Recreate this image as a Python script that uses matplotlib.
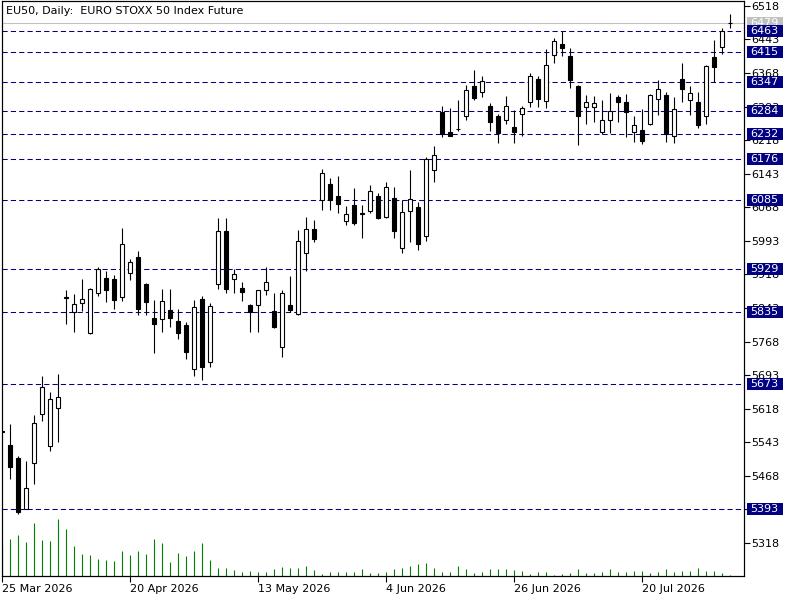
import matplotlib
matplotlib.use('Agg')
import matplotlib.pyplot as plt
from matplotlib.patches import Rectangle
from matplotlib.transforms import IdentityTransform
import numpy as np
import pandas as pd

plt.rcParams['font.family'] = ['DejaVu Sans']

# daily OHLC, EU50 future, 25 Mar 2026 .. 4 Aug 2026
opens = [5567, 5537, 5507, 5394, 5497, 5605, 5535, 5619, 5867, 5833,
         5853, 5786, 5876, 5910, 5908, 5867, 5921, 5957, 5897, 5821,
         5819, 5839, 5814, 5805, 5706, 5863, 5723, 5896, 6014, 5907,
         5888, 5850, 5849, 5884, 5836, 5755, 5850, 5829, 5965, 6019,
         6084, 6120, 6093, 6037, 6073, 6055, 6059, 6093, 6046, 6088,
         5976, 6060, 6069, 6003, 6151, 6281, 6236, 6244, 6272, 6339,
         6325, 6294, 6272, 6262, 6248, 6276, 6303, 6355, 6306, 6408,
         6433, 6406, 6339, 6292, 6292, 6236, 6262, 6315, 6303, 6236,
         6240, 6255, 6309, 6318, 6227, 6355, 6307, 6303, 6272, 6404,
         6426, 6479]
highs = [5569, 5584, 5512, 5500, 5604, 5690, 5655, 5695, 5883, 5874,
         5908, 5888, 5935, 5926, 5917, 6022, 5952, 5970, 5899, 5861,
         5886, 5886, 5841, 5812, 5861, 5870, 5854, 6044, 6044, 5930,
         5901, 5852, 5884, 5935, 5877, 5883, 5915, 6017, 6046, 6040,
         6154, 6134, 6138, 6071, 6111, 6073, 6118, 6099, 6125, 6114,
         6084, 6151, 6080, 6180, 6204, 6294, 6290, 6308, 6341, 6375,
         6362, 6301, 6276, 6317, 6286, 6294, 6368, 6362, 6422, 6446,
         6462, 6424, 6341, 6319, 6317, 6308, 6324, 6319, 6321, 6271,
         6288, 6321, 6353, 6326, 6315, 6390, 6339, 6325, 6386, 6442,
         6468, 6500]
lows = [5564, 5460, 5383, 5393, 5450, 5590, 5524, 5544, 5807, 5790,
        5836, 5785, 5870, 5857, 5841, 5859, 5906, 5828, 5828, 5742,
        5790, 5801, 5773, 5728, 5692, 5683, 5712, 5886, 5877, 5877,
        5859, 5790, 5790, 5873, 5798, 5734, 5835, 5827, 5925, 5991,
        6063, 6063, 6055, 6028, 6028, 6000, 6055, 6041, 6044, 5999,
        5965, 5990, 5973, 5992, 6125, 6224, 6227, 6239, 6264, 6308,
        6314, 6239, 6212, 6255, 6211, 6227, 6293, 6291, 6290, 6391,
        6405, 6334, 6207, 6254, 6258, 6231, 6233, 6259, 6226, 6215,
        6209, 6251, 6274, 6215, 6211, 6303, 6274, 6245, 6254, 6349,
        6410, 6468]
closes = [5566, 5488, 5386, 5441, 5585, 5666, 5639, 5643, 5865, 5851,
          5863, 5885, 5930, 5884, 5860, 5986, 5945, 5840, 5857, 5808,
          5859, 5821, 5786, 5745, 5845, 5712, 5847, 6014, 5886, 5918,
          5879, 5835, 5883, 5901, 5801, 5877, 5839, 5992, 6019, 5998,
          6145, 6084, 6075, 6052, 6032, 6052, 6104, 6043, 6113, 6014,
          6058, 6086, 5985, 6175, 6185, 6231, 6228, 6243, 6330, 6312,
          6350, 6259, 6235, 6294, 6237, 6290, 6361, 6309, 6385, 6440,
          6425, 6353, 6273, 6303, 6300, 6262, 6283, 6303, 6280, 6251,
          6216, 6318, 6332, 6231, 6287, 6332, 6323, 6251, 6384, 6382,
          6461, 6479]
volumes = [30, 37, 41, 34, 53, 36, 35, 57, 47, 30,
           22, 21, 17, 16, 15, 25, 21, 25, 22, 37,
           33, 14, 23, 20, 25, 33, 16, 8, 8, 6,
           4, 5, 4, 4, 7, 9, 8, 8, 10, 6,
           2, 4, 4, 4, 4, 7, 3, 3, 4, 7,
           8, 10, 12, 13, 8, 4, 4, 10, 7, 3,
           4, 7, 7, 7, 6, 5, 2, 4, 4, 1,
           2, 3, 7, 3, 3, 4, 7, 4, 4, 5,
           5, 3, 4, 7, 4, 5, 5, 8, 5, 5,
           3, 1]

levels = [6463, 6415, 6347, 6284, 6232, 6176, 6085, 5929, 5835, 5673, 5393]
bid = 6479
price_ticks = np.arange(5318, 6519, 75)

holidays = ['2026-04-03', '2026-04-06', '2026-05-01']
dates = pd.bdate_range('2026-03-25', '2026-08-04', freq='C', holidays=holidays)
label_step = 16

o, h, l, c = map(np.array, (opens, highs, lows, closes))
x = np.arange(len(o))
up = c >= o

fig = plt.figure(figsize=(8, 6), dpi=100)
ax = fig.add_axes([2 / 800, 24 / 600, 742 / 800, 575 / 600])
ax.set_xlim(-0.04, 92.71)
ax.set_ylim(5244, 6529)

# volume pane shares the frame, one unit per pixel
ax_vol = ax.twinx()
ax_vol.vlines(x, 0, volumes, color='#008000', lw=0.8)
ax_vol.set_ylim(0, 575)
ax_vol.set_yticks([])
ax.yaxis.tick_right()

for lv in levels:
    ax.axhline(lv, color='#000080', lw=0.75, ls=(0, (5, 3)), zorder=1)
ax.axhline(bid, color='#c0c0c0', lw=0.8, zorder=1)

ax.vlines(x, l, h, color='black', lw=0.8, zorder=3)
ax.bar(x[up], (c - o)[up], bottom=o[up], width=0.5, facecolor='white',
       edgecolor='black', lw=0.8, zorder=4)
ax.bar(x[~up], (c - o)[~up], bottom=o[~up], width=0.5, facecolor='black',
       edgecolor='black', lw=0.8, zorder=4)

ax.set_yticks(price_ticks)
ax.set_yticklabels([str(v) for v in price_ticks])
ax.tick_params(axis='y', direction='out', length=4, width=0.8, pad=1, labelsize=8)

ax.set_xticks(x[::label_step])
ax.set_xticklabels([f"{d.day} {d.strftime('%b %Y')}" for d in dates[::label_step]])
for lbl in ax.get_xticklabels():
    lbl.set_ha('left')
ax.tick_params(axis='x', direction='out', length=4, width=0.8, pad=2, labelsize=8)

for sp in ax.spines.values():
    sp.set_linewidth(0.8)

fig.text(6 / 800, 1 - 11.5 / 600, 'EU50, Daily:  EURO STOXX 50 Index Future',
         fontsize=8, va='center', ha='left')


def right_label(value, face, z):
    _, ypix = ax.transData.transform((0, value))
    x0 = ax.transAxes.transform((1, 0))[0] + 3
    fig.patches.append(Rectangle((x0, ypix - 6), 36, 12, transform=IdentityTransform(),
                                 facecolor=face, edgecolor='none', zorder=z))
    fig.text(x0 + 3, ypix, str(value), transform=IdentityTransform(), color='white',
             fontsize=8, va='center', ha='left', zorder=z + 0.1)


right_label(bid, '#c0c0c0', 5)
for lv in levels:
    right_label(lv, '#000080', 6)

fig.savefig('out.png', dpi=100)
